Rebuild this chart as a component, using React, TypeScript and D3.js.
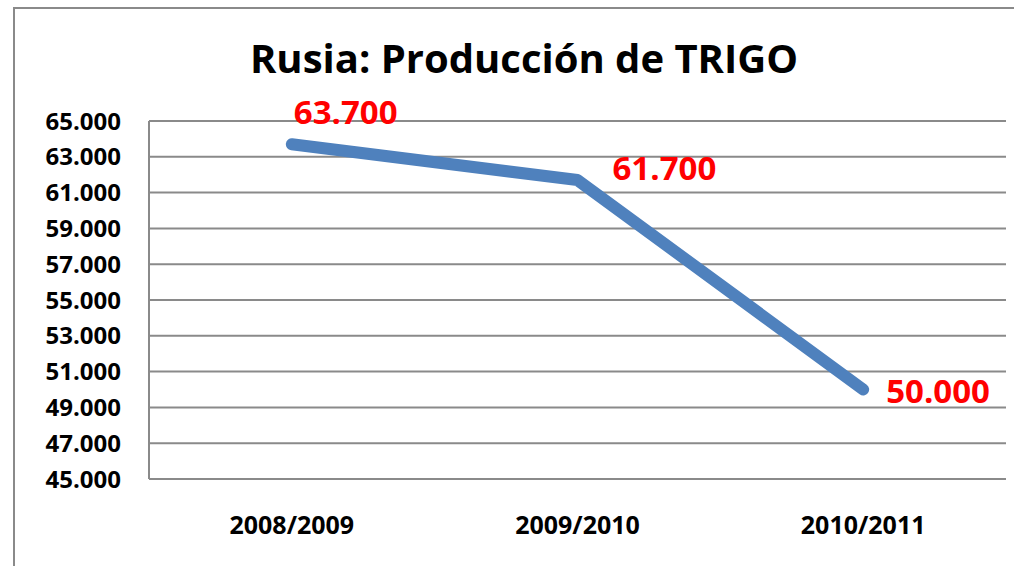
import React from "react";
import * as d3 from "d3";

const categories = ["2008/2009", "2009/2010", "2010/2011"];
const values = [63700, 61700, 50000];
const valueLabels = ["63.700", "61.700", "50.000"];
const yTicks = [45000, 47000, 49000, 51000, 53000, 55000, 57000, 59000, 61000, 63000, 65000];
const titleText = "Rusia: Producción de TRIGO";

const W = 1014;
const H = 566;
const plot = { left: 149, right: 1006, top: 121, bottom: 479 };
const FONT = "'Open Sans', 'DejaVu Sans', sans-serif";

// label placement relative to the point: [dx, dy]
const labelPlacement: [number, number][] = [
  [2, -20],
  [35, 0],
  [23, 13],
];

const fmt = (v: number) => d3.format(",")(v).replace(/,/g, ".");

export default function App() {
  const x = d3
    .scaleBand<string>()
    .domain(categories)
    .range([plot.left, plot.right]);
  const y = d3.scaleLinear().domain([45000, 65000]).range([plot.bottom, plot.top]);
  const cx = (c: string) => (x(c) ?? 0) + x.bandwidth() / 2;

  const line = d3
    .line<number>()
    .x((_, i) => cx(categories[i]))
    .y((d) => y(d));

  return (
    <svg
      width={W}
      height={H}
      style={{ position: "absolute", left: 0, top: 0, background: "#fff", overflow: "hidden" }}
    >
      <rect x={0} y={0} width={W} height={H} fill="#fff" />
      <line x1={14} x2={14} y1={7} y2={H} stroke="#8a8a8a" strokeWidth={2} />
      <line x1={13} x2={W} y1={8} y2={8} stroke="#8a8a8a" strokeWidth={2} />
      <text
        x={524}
        y={73}
        textAnchor="middle"
        fontFamily={FONT}
        fontWeight={700}
        fontSize={40}
        fill="#000"
      >
        {titleText}
      </text>
      {yTicks.map((t) => (
        <g key={t}>
          <line
            x1={plot.left}
            x2={plot.right}
            y1={y(t)}
            y2={y(t)}
            stroke="#8a8a8a"
            strokeWidth={2}
          />
          <text
            x={121}
            y={y(t)}
            dy="0.36em"
            textAnchor="end"
            fontFamily={FONT}
            fontWeight={700}
            fontSize={24}
            fill="#000"
          >
            {fmt(t)}
          </text>
        </g>
      ))}
      <line
        x1={plot.left}
        x2={plot.left}
        y1={plot.top}
        y2={plot.bottom}
        stroke="#8a8a8a"
        strokeWidth={2}
      />
      {categories.map((c) => (
        <text
          key={c}
          x={cx(c)}
          y={534}
          textAnchor="middle"
          fontFamily={FONT}
          fontWeight={700}
          fontSize={25}
          fill="#000"
        >
          {c}
        </text>
      ))}
      <path
        d={line(values) ?? ""}
        fill="none"
        stroke="#4F81BD"
        strokeWidth={12}
        strokeLinecap="round"
        strokeLinejoin="round"
      />
      {values.map((v, i) => (
        <text
          key={i}
          x={cx(categories[i]) + labelPlacement[i][0]}
          y={y(v) + labelPlacement[i][1]}
          textAnchor="start"
          fontFamily={FONT}
          fontWeight={700}
          fontSize={33}
          fill="#FF0000"
        >
          {valueLabels[i]}
        </text>
      ))}
    </svg>
  );
}
